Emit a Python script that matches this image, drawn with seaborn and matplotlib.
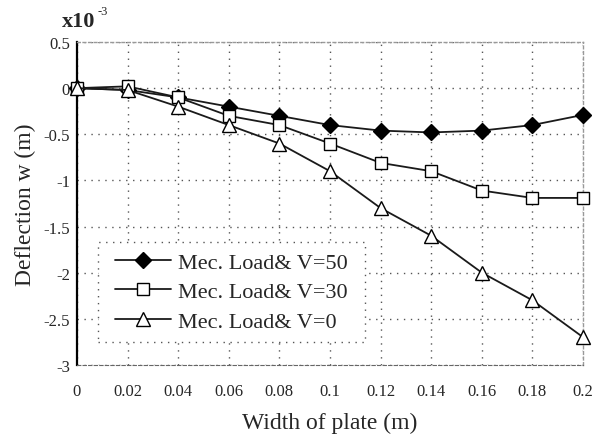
import numpy as np
import pandas as pd
import matplotlib
matplotlib.use("Agg")
import matplotlib.pyplot as plt
from matplotlib.patches import Rectangle
import seaborn as sns

width = [0, 0.02, 0.04, 0.06, 0.08, 0.1, 0.12, 0.14, 0.16, 0.18, 0.2]
v50 = [0, -0.02, -0.1, -0.2, -0.3, -0.4, -0.46, -0.48, -0.46, -0.4, -0.29]
v30 = [0, 0.02, -0.1, -0.3, -0.4, -0.6, -0.81, -0.9, -1.11, -1.19, -1.19]
v0 = [0, -0.02, -0.2, -0.4, -0.6, -0.9, -1.3, -1.6, -2.0, -2.3, -2.7]
labels = ["Mec. Load& V=50", "Mec. Load& V=30", "Mec. Load& V=0"]
xticks = [0, 0.02, 0.04, 0.06, 0.08, 0.1, 0.12, 0.14, 0.16, 0.18, 0.2]
xticklabels = ["0", "0.02", "0.04", "0.06", "0.08", "0.1", "0.12", "0.14", "0.16", "0.18", "0.2"]
yticks = [0.5, 0, -0.5, -1, -1.5, -2, -2.5, -3]
yticklabels = ["0.5", "0", "-0.5", "-1", "-1.5", "-2", "-2.5", "-3"]

sns.set_style("white")
plt.rcParams['font.family'] = ['Liberation Serif', 'DejaVu Serif']

fig = plt.figure(figsize=(6.06, 4.35), dpi=100)
ax = fig.add_axes([0.127, 0.159, 0.835, 0.742])

markers = ["D", "s", "^"]
faces = ["black", "white", "white"]
sizes = [8.5, 9, 10]
for vals, lab, mk, fc, ms in zip([v50, v30, v0], labels, markers, faces, sizes):
    df = pd.DataFrame({"x": width, "y": vals})
    sns.lineplot(data=df, x="x", y="y", ax=ax, color="#1a1a1a", lw=1.3,
                 marker=mk, markersize=ms, markerfacecolor=fc,
                 markeredgecolor="black", markeredgewidth=1.0, label=lab,
                 clip_on=False, zorder=5)

ax.set_xlim(0, 0.2)
ax.set_ylim(-3, 0.5)
ax.set_xticks(xticks)
ax.set_xticklabels(xticklabels, fontsize=12)
ax.set_yticks(yticks)
ax.set_yticklabels(yticklabels, fontsize=12)
ax.grid(True, linestyle=(0, (1, 4)), color="#555555", lw=1.0)
for side in ["top", "right"]:
    ax.spines[side].set_color("#999999")
    ax.spines[side].set_linestyle((0, (2, 2)))
    ax.spines[side].set_linewidth(1.0)
ax.spines["bottom"].set_color("#666666")
ax.spines["bottom"].set_linestyle((0, (3, 2)))
ax.spines["left"].set_color("black")
ax.spines["left"].set_linewidth(1.6)
ax.tick_params(axis="x", length=0, pad=13)
ax.tick_params(axis="y", length=0, pad=5)

ax.set_xlabel("Width of plate (m)", fontsize=17, labelpad=9)
ax.set_ylabel("Deflection w (m)", fontsize=17)
ax.yaxis.set_label_coords(-0.08, 0.5)
fig.text(0.102, 0.950, "x10", fontsize=16, ha="left", va="center", fontweight="bold")
fig.text(0.161, 0.972, "-3", fontsize=9, ha="left", va="center")

# legend box (drawn separately so its padding can match the reference)
box = Rectangle((0.0415, 0.071), 0.528, 0.31, transform=ax.transAxes,
                facecolor="white", edgecolor="#555555", linestyle=(0, (1, 4)),
                lw=1.0, zorder=4, clip_on=False)
ax.add_patch(box)
leg = ax.legend(loc="center", bbox_to_anchor=(0.305, 0.226), fontsize=16,
                frameon=False, handlelength=2.5, borderpad=0.3,
                labelspacing=0.4, handletextpad=0.3, borderaxespad=0)
leg.set_zorder(10)

fig.savefig("out.png", dpi=100, facecolor="white")
